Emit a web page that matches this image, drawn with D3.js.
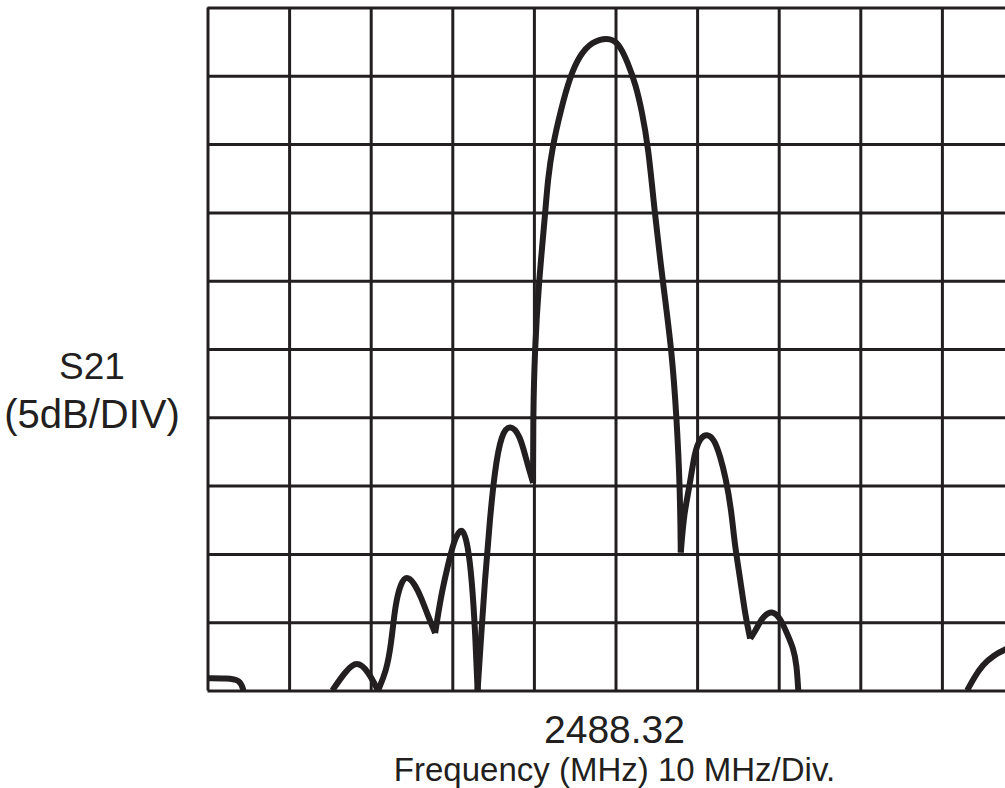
<!DOCTYPE html>
<html>
<head>
<meta charset="utf-8">
<script src="https://cdn.jsdelivr.net/npm/d3@7"></script>
<style>
  body { margin: 0; background: #fff; }
  text { font-family: Arial, "Liberation Sans", Helvetica, sans-serif; fill: #231f20; }
</style>
</head>
<body>
<div id="chart"></div>
<script>
// Trace: [offset from 2488.32 MHz, S21 dB (top of screen = 0)]
// the trace is broken at the nulls, so each lobe is its own piece
var stub   = [[-49.9,-49.1],[-47.7,-49.1],[-46.0,-49.2],[-45.6,-50]];
var lobe1  = [[-34.7,-50],[-33.1,-48.6],[-31.7,-47.8],[-30.3,-48.6],[-29.1,-50]];
var lobe2  = [[-29.1,-50],[-28.1,-48.6],[-27.5,-46.7],[-27.0,-43.7],[-26.3,-42.1],[-25.6,-41.6],
              [-24.7,-42.1],[-23.8,-43.2],[-23.0,-44.5],[-22.1,-45.8]];
var lobe3  = [[-22.1,-45.8],[-21.4,-43.1],[-20.6,-41.0],[-19.8,-39.0],[-18.8,-37.9],[-18.1,-39.3],
              [-17.6,-41.9],[-17.2,-45.6],[-16.9,-50]];
var lobe4  = [[-16.9,-50],[-16.5,-46.3],[-16.0,-41.9],[-15.4,-37.5],[-14.8,-33.9],[-14.0,-31.2],
              [-12.9,-30.5],[-11.7,-31.3],[-10.9,-33.2],[-10.1,-34.8]];
var mainLobe = [[-10.1,-34.8],[-10.1,-30.1],[-9.9,-25.1],[-9.4,-20.1],[-8.6,-15.0],[-8.3,-12.6],
              [-7.7,-10.1],[-6.7,-7.5],[-5.6,-5.1],[-4.4,-3.5],[-2.9,-2.5],[-1.0,-2.2],[0.3,-2.5],
              [1.5,-4.0],[2.5,-5.7],[3.2,-7.5],[4.0,-10.1],[4.8,-15.0],[5.8,-20.1],[6.9,-25.1],
              [7.5,-30.1],[7.9,-35.1],[8.0,-39.9]];
var lobe6  = [[8.0,-39.9],[8.4,-37.0],[9.1,-35.0],[9.7,-32.5],[10.4,-31.5],[11.2,-31.2],[12.1,-31.6],
              [12.8,-32.8],[13.5,-34.4],[14.2,-36.8],[14.6,-39.3],[15.3,-41.9],[15.9,-44.5],[16.5,-46.2]];
var lobe7  = [[16.5,-46.2],[17.1,-45.7],[18.0,-44.6],[19.2,-44.1],[20.2,-44.7],[21.0,-45.8],
              [21.8,-46.9],[22.2,-48.1],[22.4,-50]];
var lobe8  = [[43.1,-50],[43.9,-49.1],[45.0,-48.1],[46.4,-47.4],[47.7,-47.0],[49.0,-46.7]];

var pieces = [stub, lobe1, lobe2, lobe3, lobe4, mainLobe, lobe6, lobe7, lobe8];

// 10 MHz/Div, 5 dB/Div
var freqTicks = d3.range(-50, 51, 10);
var dbTicks   = d3.range(-50, 1, 5);
var centreLabel = "2488.32";
var xTitle = "Frequency (MHz) 10 MHz/Div.";
var yTitle = ["S21", "(5dB/DIV)"];

var margin = {top: 7.5, left: 207.5};
var width  = 816;   // runs past the window edge like the original
var height = 683;
var ink = "#231f20";

var svg = d3.select("#chart").append("svg")
    .attr("width", 1005)
    .attr("height", 788);

var x = d3.scaleLinear()
    .domain([-50, 50])
    .range([margin.left, margin.left + width]);

var y = d3.scaleLinear()
    .domain([-50, 0])
    .range([margin.top + height, margin.top]);

// graticule
svg.append("g")
    .attr("class", "grid")
    .attr("transform", "translate(0," + (margin.top + height) + ")")
    .call(d3.axisBottom(x).tickValues(freqTicks).tickSize(height).tickSizeOuter(0).tickFormat(""))
    .call(g => g.selectAll(".tick line").attr("y2", -height));

svg.append("g")
    .attr("class", "grid")
    .attr("transform", "translate(" + margin.left + ",0)")
    .call(d3.axisLeft(y).tickValues(dbTicks).tickSize(-width).tickFormat(""));

svg.selectAll(".grid .domain").remove();
svg.selectAll(".grid line")
    .attr("stroke", ink)
    .attr("stroke-width", 3);

// keep the trace inside the screen
svg.append("clipPath")
    .attr("id", "screen")
  .append("rect")
    .attr("x", margin.left)
    .attr("y", margin.top)
    .attr("width", width)
    .attr("height", height);

// b-spline smooths out the reading noise, the nulls stay sharp since they are piece ends
var line = d3.line()
    .x(d => x(d[0]))
    .y(d => y(d[1]))
    .curve(d3.curveBasis);

svg.append("g")
    .attr("clip-path", "url(#screen)")
    .selectAll("path")
    .data(pieces)
    .enter().append("path")
    .attr("d", line)
    .attr("fill", "none")
    .attr("stroke", ink)
    .attr("stroke-width", 6)
    .attr("stroke-linejoin", "miter");

// labels
svg.append("text")
    .attr("x", x(0) - 1)
    .attr("y", 743)
    .attr("text-anchor", "middle")
    .style("font-size", "39px")
    .text(centreLabel);

svg.append("text")
    .attr("x", x(0) - 1)
    .attr("y", 781)
    .attr("text-anchor", "middle")
    .style("font-size", "33px")
    .text(xTitle);

svg.selectAll(".ytitle")
    .data(yTitle)
    .enter().append("text")
    .attr("class", "ytitle")
    .attr("x", 92)
    .attr("y", (d, i) => 379 + i * 49)
    .attr("text-anchor", "middle")
    .style("font-size", (d, i) => i ? "40px" : "37px")
    .text(d => d);
</script>
</body>
</html>
